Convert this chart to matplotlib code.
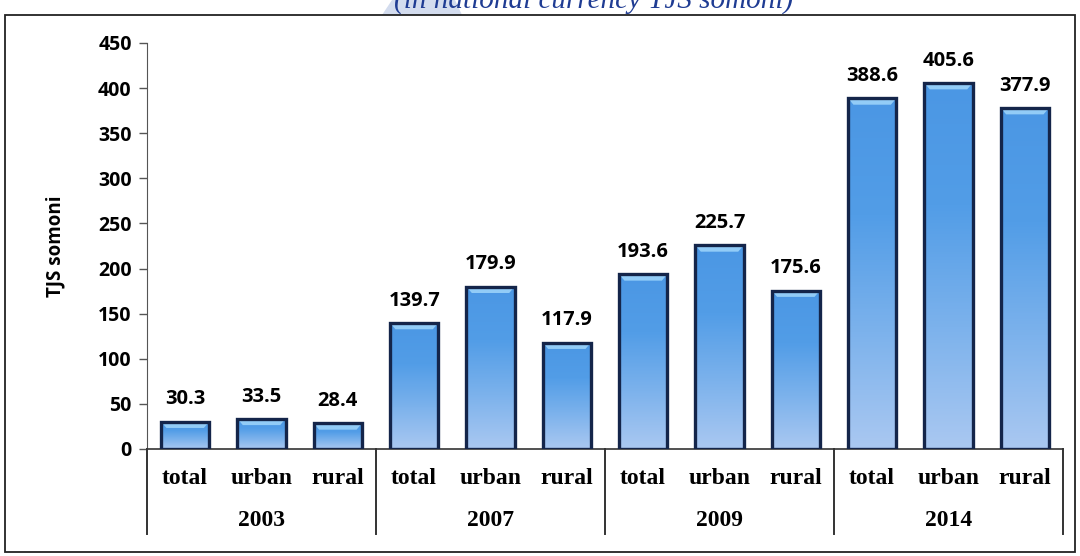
import matplotlib
matplotlib.use("Agg")
import matplotlib.pyplot as plt
import numpy as np
from matplotlib.patches import Rectangle, Polygon
from matplotlib.colors import LinearSegmentedColormap
import matplotlib.transforms as mtrans

years = ["2003", "2007", "2009", "2014"]
subcats = ["total", "urban", "rural"]
values = [30.3, 33.5, 28.4, 139.7, 179.9, 117.9, 193.6, 225.7, 175.6, 388.6, 405.6, 377.9]
yticks = [0, 50, 100, 150, 200, 250, 300, 350, 400, 450]

SANS = "Open Sans"
SERIF = "Liberation Serif"

W, H = 1080, 556
fig = plt.figure(figsize=(W / 100, H / 100), dpi=100)
ax = fig.add_axes([147 / W, 1 - 449 / H, (1063 - 147) / W, (449 - 43) / H])

n = len(values)
x = np.arange(n)
bw = 0.63

cmap = LinearSegmentedColormap.from_list("g", ["#aac8f1", "#7cb2ec", "#529de7", "#4b97e4"])
grad = np.linspace(0, 1, 256).reshape(-1, 1)
bars = ax.bar(x, values, width=bw, facecolor="none", edgecolor="#14254a", linewidth=2.4, zorder=3)
for b in bars:
    x0, y0 = b.get_x(), b.get_y()
    w, h = b.get_width(), b.get_height()
    im = ax.imshow(grad, cmap=cmap, extent=[x0, x0 + w, y0, y0 + h], origin="lower",
                   aspect="auto", zorder=2)
    im.set_clip_path(b)
    bev = 7
    ax.fill([x0, x0 + w, x0 + w - 0.07, x0 + 0.07], [h, h, h - bev, h - bev],
            color="#92ccf7", zorder=2.5, lw=0)
ax.set_xlim(-0.5, n - 0.5)
ax.set_ylim(0, 450)

for xi, v in zip(x, values):
    ax.annotate(f"{v:.1f}", (xi, v), xytext=(0, 16), textcoords="offset points",
                ha="center", va="center", fontsize=14.5, fontweight="bold", family=SANS)

ax.set_yticks(yticks)
ax.set_yticklabels([str(t) for t in yticks], fontsize=14, fontweight="bold", family=SANS)
ax.tick_params(axis="y", direction="out", length=6, width=1, color="#555555", pad=5)
ax.set_xticks([])
for s in ["top", "right"]:
    ax.spines[s].set_visible(False)
ax.spines["left"].set_color("#555555")
ax.spines["bottom"].set_color("#333333")
ax.spines["bottom"].set_linewidth(1.2)
ax.set_ylabel("TJS somoni", fontsize=13.5, fontweight="bold", family=SANS)
ax.yaxis.set_label_coords(-(147 - 65) / (1063 - 147), 0.5)

trans = mtrans.blended_transform_factory(ax.transData, fig.transFigure)
for i, lab in enumerate(subcats * len(years)):
    ax.text(i, 1 - 478 / H, lab, transform=trans, ha="center", va="center",
            fontsize=17, fontweight="bold", family=SERIF)
for g, yr in enumerate(years):
    ax.text(g * 3 + 1, 1 - 520 / H, yr, transform=trans, ha="center", va="center",
            fontsize=17, fontweight="bold", family=SERIF)
for g in range(len(years) + 1):
    ax.plot([g * 3 - 0.5] * 2, [1 - 449 / H, 1 - 534 / H], transform=trans,
            color="#333333", lw=1.4, clip_on=False)

# faint watermark shape behind title
fig.patches.append(Polygon([(392 / W, 1.0), (455 / W, 1.0), (462 / W, 1 - 15 / H), (382 / W, 1 - 15 / H)],
                           closed=True, transform=fig.transFigure, facecolor="#d3dcee",
                           edgecolor="none", zorder=0))
fig.patches.append(Rectangle((5 / W, 1 - 552 / H), 1070 / W, (552 - 15) / H, transform=fig.transFigure,
                             fill=False, edgecolor="#222222", lw=1.3))
fig.text(594 / W, 1 - 8 / H, "(in national currency TJS somoni)", ha="center", va="baseline",
         fontsize=21, style="italic", family=SERIF, color="#1f3c93")

fig.savefig("out.png", dpi=100)
